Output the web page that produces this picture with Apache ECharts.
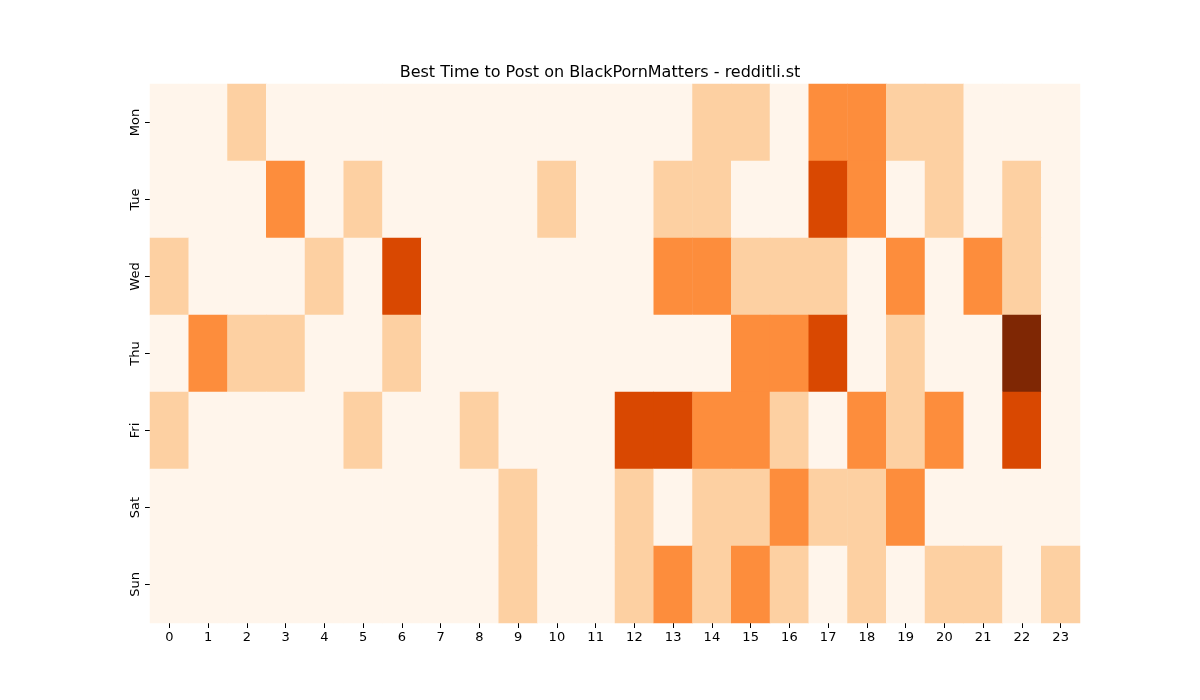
<!DOCTYPE html>
<html lang="en">
<head>
    <meta charset="UTF-8">
    <script src="https://cdn.jsdelivr.net/npm/echarts@6/dist/echarts.min.js"></script>
    <title>Best Time to Post</title>
</head>
<body style="margin:0">
    <div id="heat" style="width:1200px;height:700px;"></div>
</body>
<script type="text/javascript">
    var hours = ['0','1','2','3','4','5','6','7','8','9','10','11','12','13','14','15','16','17','18','19','20','21','22','23'];
    var days = ['Mon','Tue','Wed','Thu','Fri','Sat','Sun'];
    // activity level per hour, one row per day
    var mon = [0,0,1,0,0,0,0,0,0,0,0,0,0,0,1,1,0,2,2,1,1,0,0,0];
    var tue = [0,0,0,2,0,1,0,0,0,0,1,0,0,1,1,0,0,3,2,0,1,0,1,0];
    var wed = [1,0,0,0,1,0,3,0,0,0,0,0,0,2,2,1,1,1,0,2,0,2,1,0];
    var thu = [0,2,1,1,0,0,1,0,0,0,0,0,0,0,0,2,2,3,0,1,0,0,4,0];
    var fri = [1,0,0,0,0,1,0,0,1,0,0,0,3,3,2,2,1,0,2,1,2,0,3,0];
    var sat = [0,0,0,0,0,0,0,0,0,1,0,0,1,0,1,1,2,1,1,2,0,0,0,0];
    var sun = [0,0,0,0,0,0,0,0,0,1,0,0,1,2,1,2,1,0,1,0,1,1,0,1];
    var rows = [mon, tue, wed, thu, fri, sat, sun];

    var data = [];
    rows.forEach(function (row, d) {
        row.forEach(function (v, h) { data.push([h, d, v]); });
    });

    var chart = echarts.init(document.getElementById('heat'));
    chart.setOption({
        animation: false,
        title: {
            text: 'Best Time to Post on BlackPornMatters - redditli.st',
            left: 'center', top: 60,
            textStyle: {fontSize: 16, fontWeight: 'normal', color: '#000', fontFamily: 'DejaVu Sans'}
        },
        graphic: [{
            type: 'text', left: 549, top: 337,
            style: {text: 'redditli.st', fontSize: 27, fill: 'rgba(150,120,110,0.55)', fontFamily: 'DejaVu Sans'}
        }],
        grid: {left: 150, right: 120, top: 84, bottom: 77},
        xAxis: {
            type: 'category', data: hours,
            axisLine: {show: false},
            axisTick: {show: true, alignWithLabel: true, lineStyle: {color: '#000'}},
            axisLabel: {color: '#000', fontSize: 13, fontFamily: 'DejaVu Sans'},
            splitArea: {show: false}
        },
        yAxis: {
            type: 'category', data: days, inverse: true,
            axisLine: {show: false},
            axisTick: {show: true, alignWithLabel: true, lineStyle: {color: '#000'}},
            axisLabel: {color: '#000', fontSize: 13, rotate: 90, fontFamily: 'DejaVu Sans'}
        },
        visualMap: {
            show: false, type: 'piecewise', dimension: 2,
            pieces: [
                {value: 0, color: '#fff5eb'},
                {value: 1, color: '#fdd0a2'},
                {value: 2, color: '#fd8d3c'},
                {value: 3, color: '#d94801'},
                {value: 4, color: '#7f2704'}
            ]
        },
        series: [{
            type: 'heatmap',
            data: data,
            itemStyle: {borderWidth: 0},
            emphasis: {disabled: true},
            z: 1
        }]
    });
</script>
</html>
